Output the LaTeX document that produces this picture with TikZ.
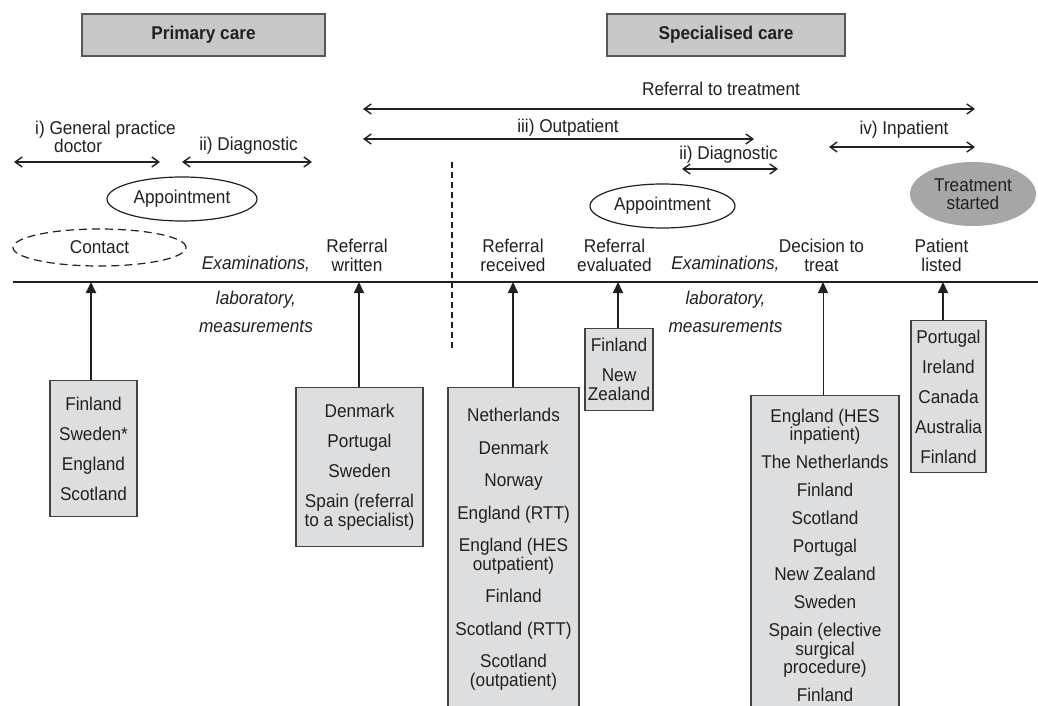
\documentclass[tikz,border=0pt]{standalone}
\usepackage{fontspec}
\setmainfont{Liberation Sans}[FakeStretch=0.93]
\usetikzlibrary{shapes.geometric, arrows.meta, positioning}

\definecolor{ink}{HTML}{231F20}
\definecolor{headgray}{HTML}{C8C8C8}
\definecolor{boxgray}{HTML}{DDDEE0}
\definecolor{startgray}{HTML}{A6A6A6}

\begin{document}
\begin{tikzpicture}[
    x=1pt, y=-1pt,
    font=\fontsize{18.5}{18.5}\selectfont, text=ink,
    head/.style={rectangle, draw=ink!75, fill=headgray, line width=1.2pt, font=\fontsize{18.5}{18.5}\selectfont\bfseries, minimum height=42pt, inner sep=0pt},
    country/.style={rectangle, draw=ink!85, fill=boxgray, line width=1.2pt, align=center, anchor=north, inner sep=0pt},
    event/.style={align=center},
    oval/.style={ellipse, draw=ink, line width=1.2pt, inner sep=0pt},
    period/.style={draw=ink, line width=1.4pt, {Straight Barb[length=7pt,width=10pt]}-{Straight Barb[length=7pt,width=10pt]}},
    hit/.style={draw=ink, line width=1.8pt, -{Triangle[length=11pt,width=10pt]}}
]
    \useasboundingbox (0,0) rectangle (1038,706);
    \clip (0,0) rectangle (1038,706);

    % care headers
    \node[head, minimum width=243pt] (primary) at (203.5,35) {Primary care};
    \node[head, minimum width=238pt] (special) at (726,35) {Specialised care};

    % waiting periods
    \coordinate (rttL) at (363,109);  \coordinate (rttR) at (975,109);
    \coordinate (outL) at (363,139);  \coordinate (outR) at (754,139);
    \coordinate (gpL) at (14,162);    \coordinate (gpR) at (160,162);
    \coordinate (dgaL) at (182,162);  \coordinate (dgaR) at (312,162);
    \coordinate (dgbL) at (682,169);  \coordinate (dgbR) at (778,169);
    \coordinate (inL) at (829,147);   \coordinate (inR) at (975,147);

    \node (rtt) at (721,89) {Referral to treatment};
    \node (outp) at (568,127.5) {iii) Outpatient};
    \node[align=left] (gp) at (105.5,137) {i) General practice\\\hspace*{19pt}doctor};
    \node (dga) at (248.5,146) {ii) Diagnostic};
    \node (dgb) at (728.5,154.5) {ii) Diagnostic};
    \node (inp) at (904,130) {iv) Inpatient};

    \draw[period] (rttL) -- (rttR);
    \draw[period] (outL) -- (outR);
    \draw[period] (gpL) -- (gpR);
    \draw[period] (dgaL) -- (dgaR);
    \draw[period] (dgbL) -- (dgbR);
    \draw[period] (inL) -- (inR);

    % ovals
    \node[oval, minimum width=150pt, minimum height=44pt] (apptA) at (182,199) {Appointment};
    \node[oval, minimum width=145pt, minimum height=44pt] (apptB) at (662.5,206) {Appointment};
    \node[oval, dash pattern=on 8pt off 5pt, minimum width=173pt, minimum height=37pt] (contact) at (99.5,247.5) {Contact};
    \node[ellipse, fill=startgray, inner sep=0pt, minimum width=126pt, minimum height=64pt, align=center] (start) at (973,194) {Treatment\\started};

    % timeline
    \coordinate (tlL) at (13,282);
    \coordinate (tlR) at (1040,282);
    \draw[ink, line width=2pt] (tlL) -- (tlR);

    \coordinate (divT) at (452,162);
    \coordinate (divB) at (452,350);
    \draw[ink, line width=1.3pt, dash pattern=on 6pt off 4pt] (divT) -- (divB);

    \node[event] (written) at (357,255.5) {Referral\\written};
    \node[event] (received) at (513,255.5) {Referral\\received};
    \node[event] (evaluated) at (614.5,255.5) {Referral\\evaluated};
    \node[event] (decision) at (821.5,255.5) {Decision to\\treat};
    \node[event] (listed) at (941.5,255.5) {Patient\\listed};

    \node[event, font=\fontsize{18.5}{18.5}\selectfont\itshape] (examA) at (256,294.5) {Examinations,\\[16pt]laboratory,\\[9.5pt]measurements};
    \node[event, font=\fontsize{18.5}{18.5}\selectfont\itshape] (examB) at (725.5,294.5) {Examinations,\\[16pt]laboratory,\\[9.5pt]measurements};

    % countries per measuring point
    \node[country, minimum width=87pt, minimum height=136pt] (bContact) at (93.5,380)
        {Finland\\[11.5pt]Sweden*\\[11.5pt]England\\[11.5pt]Scotland};
    \node[country, minimum width=127pt, minimum height=159pt] (bWritten) at (359.5,387)
        {Denmark\\[11.5pt]Portugal\\[11.5pt]Sweden\\[11.5pt]Spain (referral\\to a specialist)};
    \node[country, minimum width=131pt, minimum height=323pt] (bReceived) at (513.5,387)
        {Netherlands\\[14pt]Denmark\\[14pt]Norway\\[14pt]England (RTT)\\[14pt]England (HES\\outpatient)\\[14pt]Finland\\[14pt]Scotland (RTT)\\[14pt]Scotland\\(outpatient)};
    \node[country, minimum width=68pt, minimum height=82pt] (bEvaluated) at (619,328)
        {Finland\\[11.5pt]New\\Zealand};
    \node[country, minimum width=148pt, minimum height=320pt] (bDecision) at (825,395)
        {England (HES\\inpatient)\\[9.5pt]The Netherlands\\[9.5pt]Finland\\[9.5pt]Scotland\\[9.5pt]Portugal\\[9.5pt]New Zealand\\[9.5pt]Sweden\\[9.5pt]Spain (elective\\surgical\\procedure)\\[9.5pt]Finland};
    \node[country, minimum width=75pt, minimum height=152pt] (bListed) at (948.5,320)
        {Portugal\\[11.5pt]Ireland\\[11.5pt]Canada\\[11.5pt]Australia\\[11.5pt]Finland};

    \coordinate (aContact) at (91,282);
    \coordinate (aWritten) at (359,282);
    \coordinate (aReceived) at (513,282);
    \coordinate (aEvaluated) at (618,282);
    \coordinate (aDecision) at (823,282);
    \coordinate (aListed) at (943,282);

    \draw[hit] (bContact.north -| aContact) -- (aContact);
    \draw[hit] (bWritten.north -| aWritten) -- (aWritten);
    \draw[hit] (bReceived.north -| aReceived) -- (aReceived);
    \draw[hit] (bEvaluated.north -| aEvaluated) -- (aEvaluated);
    \draw[hit, line width=1pt] (bDecision.north -| aDecision) -- (aDecision);
    \draw[hit] (bListed.north -| aListed) -- (aListed);
\end{tikzpicture}
\end{document}
